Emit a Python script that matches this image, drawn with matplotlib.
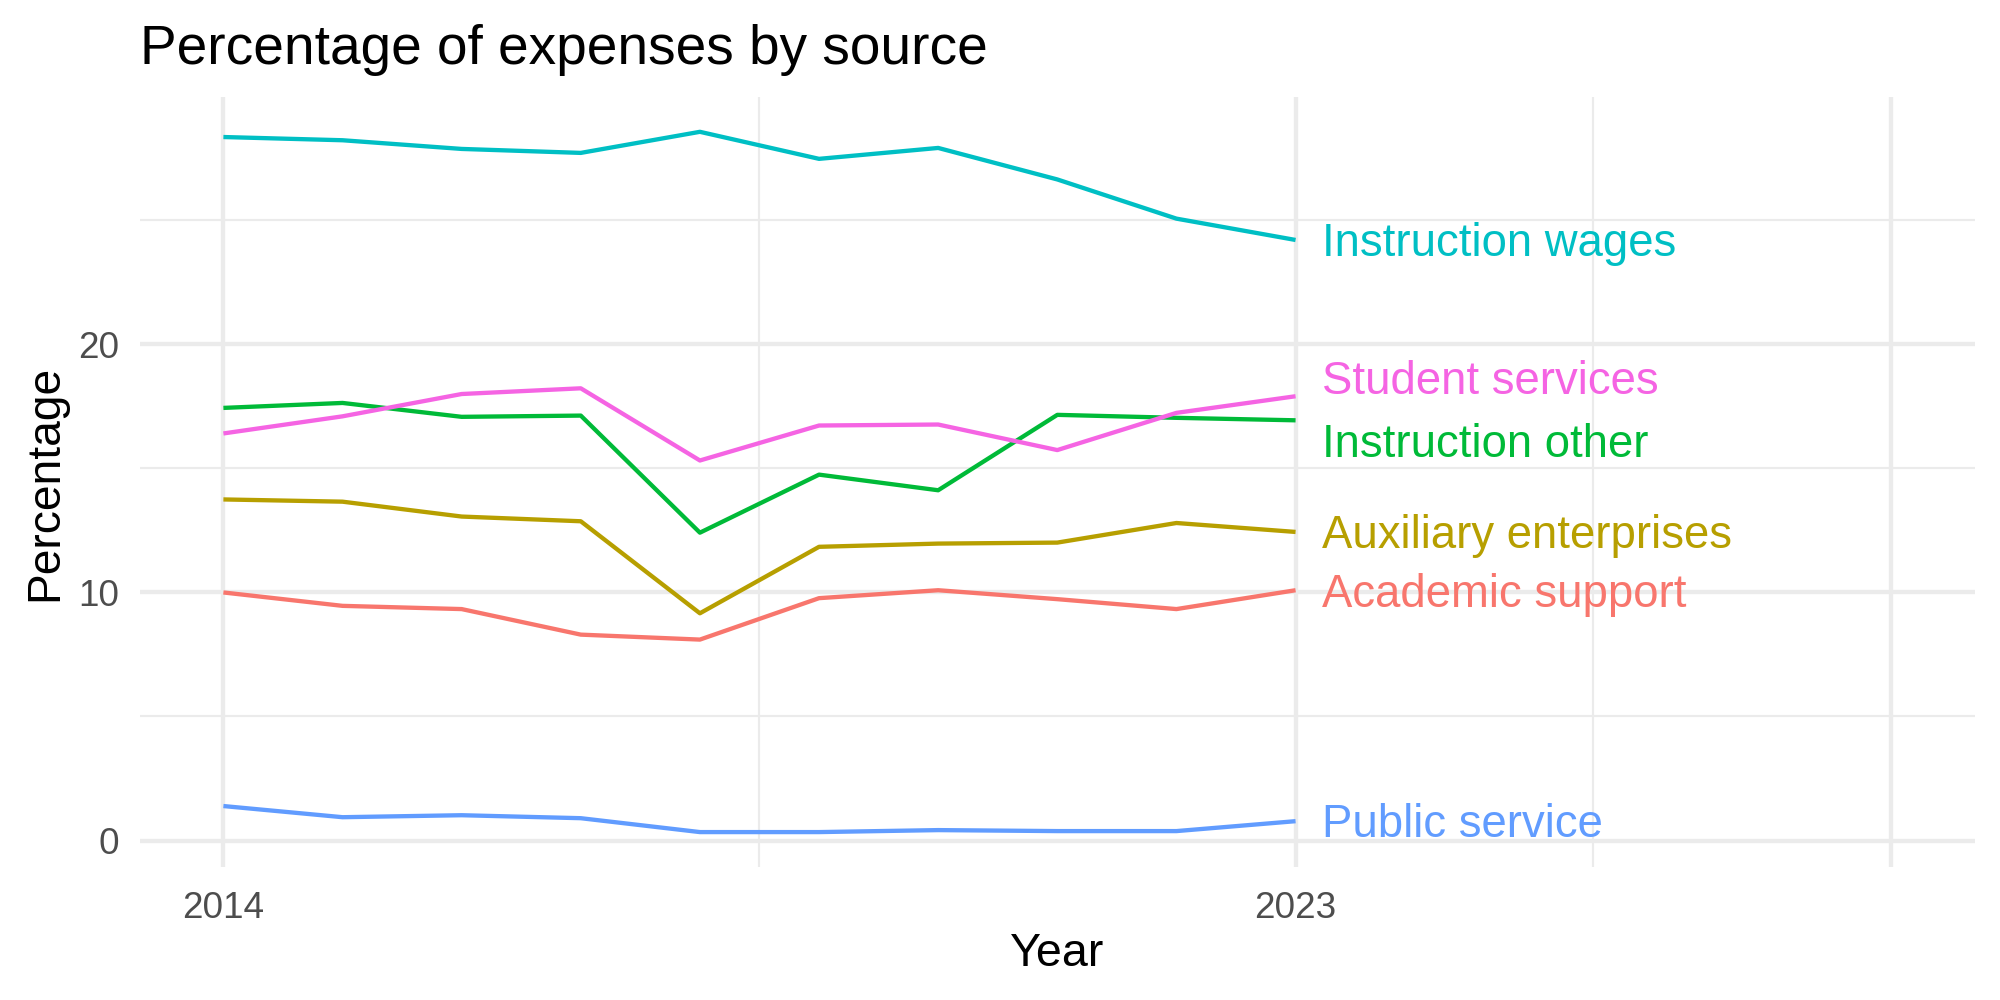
import matplotlib
matplotlib.use("Agg")
import matplotlib.pyplot as plt
from matplotlib.transforms import offset_copy
import numpy as np

# Data
years = list(range(2014, 2024))
academic_support = [10.00, 9.46, 9.33, 8.30, 8.10, 9.77, 10.09, 9.73, 9.33, 10.09]
auxiliary_enterprises = [13.75, 13.66, 13.06, 12.87, 9.16, 11.84, 11.97, 12.01, 12.80, 12.44]
instruction_other = [17.44, 17.64, 17.08, 17.13, 12.41, 14.75, 14.12, 17.16, 17.04, 16.94]
instruction_wages = [28.36, 28.23, 27.88, 27.72, 28.57, 27.48, 27.92, 26.65, 25.07, 24.21]
public_service = [1.39, 0.94, 1.02, 0.90, 0.34, 0.34, 0.42, 0.38, 0.38, 0.78]
student_services = [16.41, 17.10, 18.00, 18.23, 15.32, 16.73, 16.77, 15.74, 17.24, 17.91]

sources = ["Academic support", "Auxiliary enterprises", "Instruction other",
           "Instruction wages", "Public service", "Student services"]
series = [academic_support, auxiliary_enterprises, instruction_other,
          instruction_wages, public_service, student_services]
x_tick_labels = ["2014", "2023", ""]

# ggplot default hue palette
colors = ["#F8766D", "#B79F00", "#00BA38", "#00BFC4", "#619CFF", "#F564E3"]
# small vertical nudges so overlapping labels don't collide
label_nudge = {"Student services": 0.74, "Instruction other": -0.82}

plt.rcParams["font.family"] = ["Liberation Sans", "DejaVu Sans"]

fig = plt.figure(figsize=(10, 5), dpi=200)
ax = fig.add_axes([0.07, 0.1329, 0.9173, 0.7703])

for name, vals, col in zip(sources, series, colors):
    ax.plot(years, vals, color=col, linewidth=1.55, solid_capstyle="butt", zorder=3)

# end-of-line labels
label_size = 16.4
shift = offset_copy(ax.transData, fig=fig, y=-0.716 * label_size / 2, units="points")
for name, vals, col in zip(sources, series, colors):
    ax.text(years[-1] + 0.22, vals[-1] + label_nudge.get(name, 0), name,
            color=col, fontsize=label_size, ha="left", va="baseline",
            transform=shift, zorder=4)

# scales (ggplot-style 5% expansion)
xmin, xmax = 2014, 2028
ax.set_xlim(xmin - 0.05 * (xmax - xmin), xmax + 0.05 * (xmax - xmin))
allv = np.concatenate([np.array(s) for s in series])
lo, hi = allv.min(), allv.max()
rng = hi - lo
ax.set_ylim(lo - 0.05 * rng, hi + 0.05 * rng)

ax.set_xticks([2014, 2023, 2028])
ax.set_xticklabels(x_tick_labels)
ax.set_xticks([2018.5, 2025.5], minor=True)
ax.set_yticks([0, 10, 20])
ax.set_yticks([5, 15, 25], minor=True)

# theme_minimal look
for s in ax.spines.values():
    s.set_visible(False)
ax.grid(which="major", color="#EBEBEB", linewidth=1.55)
ax.grid(which="minor", color="#EBEBEB", linewidth=0.78)
ax.set_axisbelow(True)
ax.tick_params(which="both", length=0)
ax.tick_params(axis="x", which="major", labelsize=13.3, labelcolor="#4D4D4D", pad=8.5)
ax.tick_params(axis="y", which="major", labelsize=13.3, labelcolor="#4D4D4D", pad=7.5)

fig.text(0.07, 0.936, "Percentage of expenses by source", fontsize=19.8,
         ha="left", va="baseline", color="black")
fig.text(0.5285, 0.0344, "Year", fontsize=16.8, ha="center", va="baseline")
fig.text(0.0285, 0.5175, "Percentage", fontsize=16.6, rotation=90,
         rotation_mode="anchor", ha="center", va="baseline")

fig.savefig("out.png", dpi=200, facecolor="white")
